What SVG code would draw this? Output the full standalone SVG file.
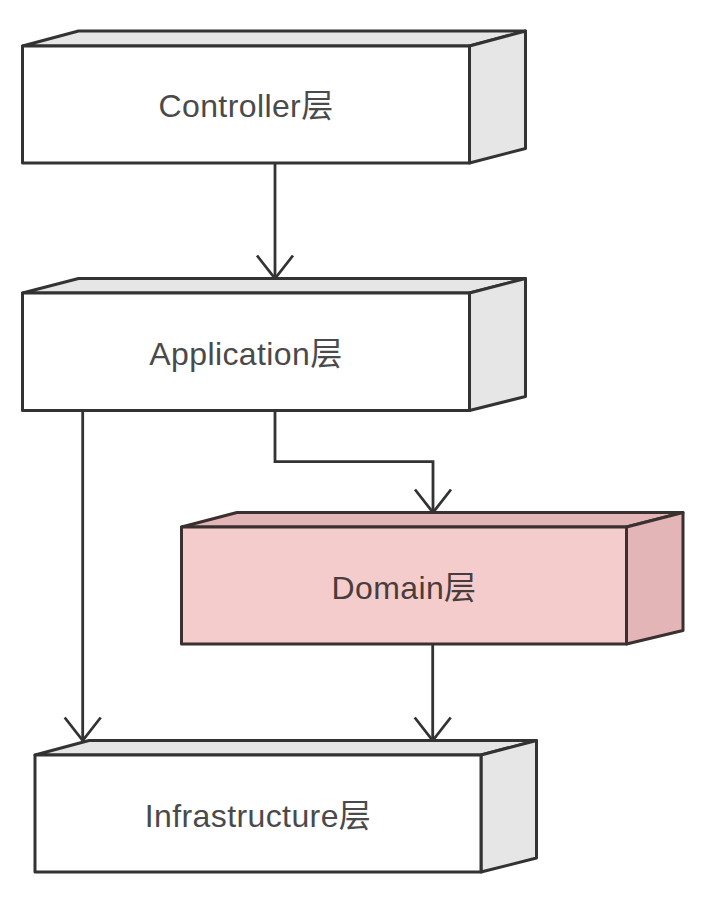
<svg xmlns="http://www.w3.org/2000/svg" width="716" height="900" viewBox="0 0 716 900">
  <defs>
    <style>
      .front { fill: #ffffff; stroke: #333333; stroke-width: 3; stroke-linejoin: round; }
      .face { fill: #e6e6e6; stroke: #333333; stroke-width: 3; stroke-linejoin: round; }
      .dfront { fill: #f4cccc; stroke: #3a3030; stroke-width: 3; stroke-linejoin: round; }
      .dface { fill: #e3b5b6; stroke: #3a3030; stroke-width: 3; stroke-linejoin: round; }
      .label { font-family: "Liberation Sans", "Noto Sans CJK SC", sans-serif; font-size: 32px; letter-spacing: 0.4px; fill: #4a4a4a; text-anchor: middle; }
      .dlabel { fill: #4a3c3c; }
      .conn { fill: none; stroke: #333333; stroke-width: 2.8; }
    </style>
    <marker id="arrow" markerUnits="userSpaceOnUse" markerWidth="50" markerHeight="50" viewBox="-30 -25 35 50" refX="0" refY="0" orient="auto">
      <path d="M-23,-18 L0,0 L-23,18" fill="none" stroke="#333333" stroke-width="2.8" stroke-linejoin="miter"/>
    </marker>
  </defs>
  <rect width="716" height="900" fill="#ffffff"/>

  <g id="connectors">
    <path class="conn" d="M275,163 V278.5" marker-end="url(#arrow)"/>
    <path class="conn" d="M82.7,410.5 V740.5" marker-end="url(#arrow)"/>
    <path class="conn" d="M275,410.5 V461.7 H433 V512.5" marker-end="url(#arrow)"/>
    <path class="conn" d="M432.7,644 V740.5" marker-end="url(#arrow)"/>
  </g>

  <g id="controller">
    <polygon class="face" points="22.5,46 78.5,31 525.5,31 469.5,46"/>
    <polygon class="face" points="469.5,46 525.5,31 525.5,148.5 469.5,163"/>
    <rect class="front" x="22.5" y="46" width="447" height="117"/>
    <text class="label" x="246" y="116.5">Controller层</text>
  </g>

  <g id="application">
    <polygon class="face" points="22.5,293 78.5,278.5 525.5,278.5 469.5,293"/>
    <polygon class="face" points="469.5,293 525.5,278.5 525.5,396.5 469.5,410.5"/>
    <rect class="front" x="22.5" y="293" width="447" height="117.5"/>
    <text class="label" x="246" y="365">Application层</text>
  </g>

  <g id="domain">
    <polygon class="dface" points="181.5,527 237,512.5 683,512.5 626.5,527"/>
    <polygon class="dface" points="626.5,527 683,512.5 683,630.5 626.5,644"/>
    <rect class="dfront" x="181.5" y="527" width="445" height="117"/>
    <text class="label dlabel" x="404" y="598.5">Domain层</text>
  </g>

  <g id="infrastructure">
    <polygon class="face" points="35,755 89,740.5 536.5,740.5 481,755"/>
    <polygon class="face" points="481,755 536.5,740.5 536.5,858 481,872"/>
    <rect class="front" x="35" y="755" width="446" height="117"/>
    <text class="label" x="258" y="826.5">Infrastructure层</text>
  </g>
</svg>
